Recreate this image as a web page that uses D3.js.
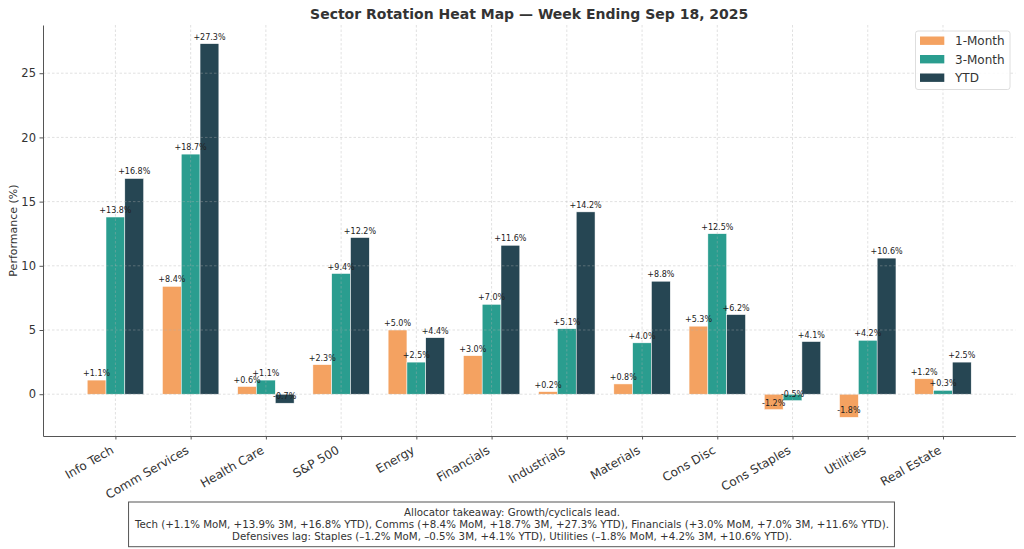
<!DOCTYPE html>
<html>
<head>
<meta charset="utf-8">
<script src="https://cdn.jsdelivr.net/npm/d3@7"></script>
<style>
  body { margin: 0; background: #fff; }
  svg { display: block; font-family: "DejaVu Sans", sans-serif; }
</style>
</head>
<body>
<svg id="chart"></svg>
<script>
var sectors = ["Info Tech", "Comm Services", "Health Care", "S&P 500", "Energy", "Financials",
               "Industrials", "Materials", "Cons Disc", "Cons Staples", "Utilities", "Real Estate"];
var oneMonth   = [1.1, 8.4, 0.6, 2.3, 5.0, 3.0, 0.2, 0.8, 5.3, -1.2, -1.8, 1.2];
var threeMonth = [13.8, 18.7, 1.1, 9.4, 2.5, 7.0, 5.1, 4.0, 12.5, -0.5, 4.2, 0.3];
var ytd        = [16.8, 27.3, -0.7, 12.2, 4.4, 11.6, 14.2, 8.8, 6.2, 4.1, 10.6, 2.5];
var seriesNames = ["1-Month", "3-Month", "YTD"];
var yTicks = [0, 5, 10, 15, 20, 25];
var noteLines = [
  "Allocator takeaway: Growth/cyclicals lead.",
  "Tech (+1.1% MoM, +13.9% 3M, +16.8% YTD), Comms (+8.4% MoM, +18.7% 3M, +27.3% YTD), Financials (+3.0% MoM, +7.0% 3M, +11.6% YTD).",
  "Defensives lag: Staples (\u20131.2% MoM, \u20130.5% 3M, +4.1% YTD), Utilities (\u20131.8% MoM, +4.2% 3M, +10.6% YTD)."
];

var colors = ["#F4A261", "#2A9D8F", "#264653"];
var seriesValues = [oneMonth, threeMonth, ytd];

var svgWidth = 1024, svgHeight = 549;
var plotLeft = 43, plotRight = 1015.4, plotTop = 25, plotBottom = 436;

var svg = d3.select("#chart")
    .attr("width", svgWidth)
    .attr("height", svgHeight);

var xScale = d3.scalePoint()
    .domain(sectors)
    .range([plotLeft, plotRight])
    .padding(0.9625);
var barW = xScale.step() * 0.25;

var yScale = d3.scaleLinear()
    .domain([-3.255, 28.755])
    .range([plotBottom, plotTop]);

// bars
for (let k = 0; k < 3; k++) {
    let vals = seriesValues[k];
    svg.append("g")
        .selectAll("rect")
        .data(sectors)
        .enter()
        .append("rect")
        .attr("x", (d, i) => xScale(d) + (k - 1) * barW - barW / 2)
        .attr("width", barW)
        .attr("y", (d, i) => yScale(Math.max(0, vals[i])))
        .attr("height", (d, i) => Math.abs(yScale(vals[i]) - yScale(0)))
        .attr("fill", colors[k])
        .attr("stroke", "#ffffff")
        .attr("stroke-width", 0.5);
}

// grid (drawn over bars like the original)
var grid = svg.append("g").attr("class", "grid");
grid.selectAll("line.gx")
    .data(sectors)
    .enter()
    .append("line")
    .attr("class", "gx")
    .attr("x1", d => xScale(d)).attr("x2", d => xScale(d))
    .attr("y1", plotTop).attr("y2", plotBottom);
grid.selectAll("line.gy")
    .data(yTicks)
    .enter()
    .append("line")
    .attr("class", "gy")
    .attr("x1", plotLeft).attr("x2", plotRight)
    .attr("y1", d => yScale(d)).attr("y2", d => yScale(d));
grid.selectAll("line")
    .attr("stroke", "#b0b0b0")
    .attr("stroke-opacity", 0.55)
    .attr("stroke-width", 0.7)
    .attr("stroke-dasharray", "2.5,2");

// value labels
for (let k = 0; k < 3; k++) {
    let vals = seriesValues[k];
    svg.append("g")
        .selectAll("text")
        .data(sectors)
        .enter()
        .append("text")
        .attr("x", (d, i) => xScale(d) + (k - 1) * barW)
        .attr("y", (d, i) => yScale(vals[i]) - 4)
        .attr("text-anchor", "middle")
        .attr("font-size", "8px")
        .attr("fill", "#222")
        .text((d, i) => (vals[i] >= 0 ? "+" : "") + vals[i].toFixed(1) + "%");
}

// axes
svg.append("g")
    .attr("class", "yAxis")
    .attr("transform", "translate(" + plotLeft + ",0)")
    .call(d3.axisLeft(yScale).tickValues(yTicks).tickSize(3.5).tickSizeOuter(0).tickPadding(3.5));

svg.append("g")
    .attr("class", "xAxis")
    .attr("transform", "translate(0," + plotBottom + ")")
    .call(d3.axisBottom(xScale).tickSize(3.5).tickSizeOuter(0));

svg.selectAll(".yAxis .domain, .xAxis .domain, .tick line")
    .attr("stroke", "#555")
    .attr("stroke-width", 1);
svg.selectAll(".yAxis .tick text")
    .attr("font-size", "11.5px")
    .attr("font-family", "DejaVu Sans")
    .attr("fill", "#333");
svg.selectAll(".xAxis .tick text")
    .attr("font-size", "12px")
    .attr("font-family", "DejaVu Sans")
    .attr("fill", "#333")
    .attr("text-anchor", "end")
    .attr("dy", null)
    .attr("y", null)
    .attr("transform", "translate(-1.4,16.5) rotate(-30)");

svg.append("text")
    .attr("transform", "translate(17," + ((plotTop + plotBottom) / 2) + ") rotate(-90)")
    .attr("text-anchor", "middle")
    .attr("font-size", "11px")
    .attr("fill", "#333")
    .text("Performance (%)");

// title
svg.append("text")
    .attr("x", (plotLeft + plotRight) / 2)
    .attr("y", 19)
    .attr("text-anchor", "middle")
    .attr("font-size", "14px")
    .attr("font-weight", "bold")
    .attr("fill", "#333")
    .text("Sector Rotation Heat Map \u2014 Week Ending Sep 18, 2025");

// legend
var legend = svg.append("g");
legend.append("rect")
    .attr("x", 915.5).attr("y", 31)
    .attr("width", 94.5).attr("height", 58.5)
    .attr("rx", 2.5)
    .attr("fill", "#fff").attr("fill-opacity", 0.85)
    .attr("stroke", "#d6d6d6").attr("stroke-width", 0.8);
seriesNames.forEach(function(name, k) {
    var cy = 40.7 + k * 18.5;
    legend.append("rect")
        .attr("x", 920).attr("y", cy - 4.2)
        .attr("width", 24.3).attr("height", 8.4)
        .attr("fill", colors[k]);
    legend.append("text")
        .attr("x", 955).attr("y", cy + 4.3)
        .attr("font-size", "12px")
        .attr("fill", "#333")
        .text(name);
});

// note box
var note = svg.append("g");
var noteText = note.append("text")
    .attr("text-anchor", "middle")
    .attr("font-size", "10.25px")
    .attr("fill", "#333");
noteLines.forEach(function(line, i) {
    noteText.append("tspan")
        .attr("x", 512)
        .attr("y", 515.5 + i * 12.3)
        .text(line);
});
var bb = noteText.node().getBBox();
note.insert("rect", "text")
    .attr("x", bb.x - 5.5).attr("y", 502)
    .attr("width", bb.width + 11).attr("height", 44.7)
    .attr("fill", "#fff")
    .attr("stroke", "#555").attr("stroke-width", 1);
</script>
</body>
</html>
